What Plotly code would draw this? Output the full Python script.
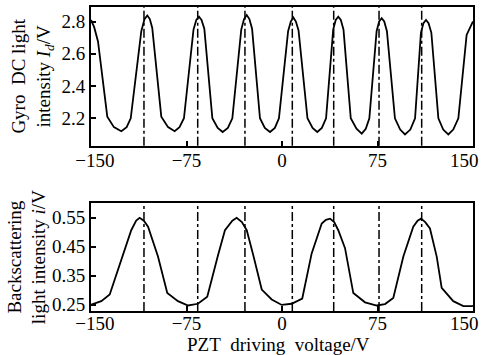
import plotly.graph_objects as go
from plotly.subplots import make_subplots

# Top: gyro DC light intensity
dc_x = [-150, -147.5, -144.5, -137.2, -132.0, -126.2, -122.0, -118.8, -110.5, -108.0, -105.8, -103.8, -101.9,
        -94.8, -89.5, -84.3, -80.5, -77.0, -69.5, -67.3, -65.2, -63.2, -61.0,
        -54.7, -50.5, -46.6, -42.5, -39.0, -32.0, -29.8, -27.7, -25.6, -23.5,
        -17.3, -13.5, -9.4, -5.6, -2.4, 4.8, 6.9, 8.9, 10.9, 13.0,
        20.0, 24.0, 27.7, 31.3, 34.6, 40.2, 42.2, 44.2, 46.2, 48.3,
        54.0, 58.5, 62.6, 65.8, 68.6, 74.3, 76.3, 78.3, 80.3, 82.4,
        88.7, 92.8, 96.6, 100.8, 104.5, 109.1, 111.1, 113.1, 115.1, 117.3,
        122.8, 126.6, 130.6, 134.5, 138.5, 145.0, 149.0, 150]
dc_y = [2.81, 2.765, 2.676, 2.21, 2.145, 2.12, 2.145, 2.20, 2.74, 2.815, 2.837, 2.815, 2.76,
        2.21, 2.145, 2.12, 2.145, 2.20, 2.75, 2.81, 2.83, 2.81, 2.755,
        2.20, 2.14, 2.115, 2.14, 2.20, 2.75, 2.815, 2.84, 2.815, 2.755,
        2.20, 2.14, 2.115, 2.14, 2.20, 2.74, 2.80, 2.825, 2.80, 2.745,
        2.20, 2.14, 2.115, 2.14, 2.20, 2.75, 2.81, 2.83, 2.81, 2.75,
        2.20, 2.135, 2.105, 2.135, 2.20, 2.74, 2.80, 2.82, 2.80, 2.74,
        2.20, 2.13, 2.10, 2.13, 2.20, 2.73, 2.79, 2.81, 2.79, 2.73,
        2.20, 2.13, 2.10, 2.13, 2.20, 2.717, 2.79, 2.80]

# Bottom: backscattering light intensity
bs_x = [-150, -141.9, -135.3, -126.2, -118.4, -114.5, -111.8, -108.5, -105.2, -97.4, -90.1, -81.7, -73.8,
        -66.0, -58.7, -50.3, -44.8, -39.0, -35.6, -31.5, -27.7, -22.5, -15.9, -8.1, -0.2,
        7.6, 15.9, 23.3, 31.2, 34.5, 37.7, 41.0, 44.2, 49.5, 56.0, 65.2, 74.4,
        80.9, 87.4, 95.3, 103.1, 106.5, 109.2, 112.5, 116.2, 121.5, 125.4, 134.5, 142.4, 149.0, 150]
bs_y = [0.25, 0.262, 0.285, 0.405, 0.507, 0.54, 0.55, 0.54, 0.519, 0.416, 0.29, 0.262, 0.247,
        0.253, 0.277, 0.42, 0.507, 0.54, 0.55, 0.535, 0.507, 0.42, 0.302, 0.268, 0.249,
        0.253, 0.271, 0.427, 0.53, 0.543, 0.547, 0.535, 0.507, 0.445, 0.29, 0.258, 0.247,
        0.252, 0.273, 0.416, 0.519, 0.54, 0.547, 0.535, 0.513, 0.416, 0.308, 0.262, 0.245, 0.245, 0.246]

# Dash-dot reference lines (PZT voltages)
ref_x = [-108.4, -66.2, -29.1, 8.1, 40.6, 76.2, 109.7]

x_ticks = [-150, -75, 0, 75, 150]
x_text = ["\u2009\u2009\u2212150", "\u221275", "0", "75", ""]
x_last_val = 150
x_last_text = "150"
top_ticks = [2.2, 2.4, 2.6, 2.8]
top_text = ["2.2", "2.4", "2.6", "2.8"]
bot_ticks = [0.25, 0.35, 0.45, 0.55]
bot_text = ["0.25", "0.35", "0.45", "0.55"]
x_title = "PZT\u00a0 driving\u00a0 voltage/V"

FONT = "Liberation Serif, Times New Roman, serif"
TF = dict(family=FONT, size=19, color="black")

fig = make_subplots(rows=2, cols=1, vertical_spacing=0.0)

fig.add_trace(go.Scatter(x=dc_x, y=dc_y, mode="lines",
                         line=dict(color="black", width=1.8), showlegend=False), row=1, col=1)
fig.add_trace(go.Scatter(x=bs_x, y=bs_y, mode="lines",
                         line=dict(color="black", width=1.8), showlegend=False), row=2, col=1)

for xr, yr in (("x", "y domain"), ("x2", "y2 domain")):
    for v in ref_x:
        fig.add_shape(type="line", xref=xr, yref=yr, x0=v, x1=v, y0=0, y1=1,
                      line=dict(color="black", width=1.5, dash="dashdot"), layer="below")

axis_common = dict(showline=True, mirror=True, linecolor="black", linewidth=1.8,
                   ticks="inside", ticklen=5, tickwidth=1.5, tickcolor="black",
                   showgrid=False, zeroline=False, automargin=False, tickfont=TF)

fig.update_xaxes(range=[-150, 150], tickvals=x_ticks, ticktext=x_text, **axis_common)
fig.update_yaxes(**axis_common)

# last x tick label, nudged inward as in the original figure
for xr, ypos in (("x", 0.4967), ("x2", -0.0405)):
    fig.add_annotation(text=x_last_text, xref=xr, yref="paper", x=x_last_val, y=ypos,
                       xshift=-9, xanchor="center", yanchor="middle", showarrow=False, font=TF)

fig.add_annotation(text=x_title, xref="x2 domain", yref="paper", x=0.49, y=-0.11,
                   xanchor="center", yanchor="middle", showarrow=False, font=TF)

fig.update_layout(
    template="none",
    xaxis=dict(domain=[0, 1], ticklabelstandoff=-3),
    yaxis=dict(domain=[0.5438, 1.0], range=[2.03, 2.89], tickvals=top_ticks, ticktext=top_text,
               title=dict(text="Gyro\u00a0 DC light<br>intensity <i>I</i><sub><i>d</i></sub>/V",
                          font=TF, standoff=6)),
    xaxis2=dict(domain=[0, 1], ticklabelstandoff=-6),
    yaxis2=dict(domain=[0, 0.3543], range=[0.228, 0.60], tickvals=bot_ticks, ticktext=bot_text,
                title=dict(text="Backscattering<br>light intensity <i>i</i>/V",
                           font=TF, standoff=1)),
    width=486, height=355,
    margin=dict(l=91, r=13, t=7, b=44),
    paper_bgcolor="white", plot_bgcolor="white",
    font=TF,
)

fig.write_html("out.html", config={"displayModeBar": False},
               post_script="document.body.style.margin='0';document.body.style.overflow='hidden';")
